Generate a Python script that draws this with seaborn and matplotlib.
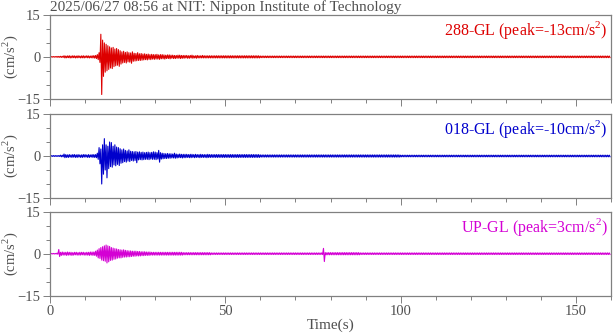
import numpy as np
import pandas as pd
import matplotlib
matplotlib.use("Agg")
import matplotlib.pyplot as plt
import seaborn as sns

# ---------------- data (peak values, one pair every 0.5 s) ----------------
t_up = np.arange(0, 160, 0.5)          # time of each positive peak (s)
# segments: A 0-12.5 s (26), B 13-29.5 s (34), C 30-45.5 s (32), D 46-159.5 s (228)

# 288-GL (red)
ns_up_a = [0.1, 0.1, 0.1, 0.1, 0.15, 0.15, 0.2, 0.2, 0.4, 0.3, 0.35, 0.4, 0.3, 0.4, 0.35, 0.3,
           0.4, 0.3, 0.35, 0.4, 0.3, 0.4, 0.35, 0.3, 0.4, 0.45]
ns_lo_a = [-0.1, -0.1, -0.1, -0.1, -0.15, -0.15, -0.2, -0.2, -0.4, -0.35, -0.3, -0.4, -0.35, -0.3,
           -0.4, -0.35, -0.3, -0.4, -0.35, -0.4, -0.3, -0.35, -0.4, -0.35, -0.4, -0.45]
ns_up_b = [0.5, 0.8, 1.5, 8.1, 6.0, 5.0, 4.5, 4.0, 3.6, 3.2, 3.4, 2.8, 3.0, 2.6, 2.2, 1.8, 2.0,
           1.6, 1.8, 1.5, 1.4, 1.8, 1.3, 1.2, 1.5, 1.1, 1.2, 1.0, 1.1, 0.9, 1.0, 0.8, 0.9, 0.8]
ns_lo_b = [-0.6, -1.0, -2.0, -13.5, -7.0, -5.5, -5.0, -4.5, -4.0, -4.2, -3.5, -3.2, -3.0, -3.4,
           -2.6, -2.2, -2.0, -2.2, -1.8, -1.9, -2.3, -1.6, -1.5, -1.4, -1.3, -1.3, -1.2, -1.1,
           -1.0, -1.1, -0.9, -1.0, -0.8, -0.9]
ns_up_c = [0.8, 0.9, 0.7, 0.8, 0.8, 0.7, 0.6, 0.7, 0.7, 0.6, 0.6, 0.5, 0.5, 0.6, 0.6, 0.5,
           0.5, 0.5, 0.5, 0.4, 0.5, 0.6, 0.4, 0.4, 0.5, 0.4, 0.4, 0.5, 0.4, 0.4, 0.4, 0.4]
ns_lo_c = [-0.8, -0.8, -0.9, -0.7, -0.7, -0.8, -0.6, -0.6, -0.7, -0.5, -0.6, -0.6, -0.5, -0.5,
           -0.6, -0.5, -0.5, -0.4, -0.5, -0.5, -0.4, -0.5, -0.4, -0.5, -0.4, -0.4, -0.4, -0.4,
           -0.4, -0.4, -0.4, -0.4]
ns_up_d = [0.4] * 28 + [0.3] * 200
ns_lo_d = [-0.4] * 28 + [-0.3] * 200

# 018-GL (blue)
ew_up_a = [0.15] * 6 + [0.3, 0.3, 0.7, 0.5] + [0.4, 0.5, 0.4, 0.5, 0.5, 0.4, 0.5, 0.4, 0.4, 0.5,
                                               0.5, 0.4, 0.5, 0.4, 0.5, 0.5]
ew_lo_a = [-0.15] * 6 + [-0.3, -0.3, -0.6, -0.5] + [-0.5, -0.4, -0.5, -0.4, -0.5, -0.5, -0.4,
                                                   -0.5, -0.5, -0.4, -0.4, -0.5, -0.5, -0.4,
                                                   -0.5, -0.5]
ew_up_b = [0.5, 1.0, 3.0, 2.5, 4.0, 6.2, 4.0, 3.5, 5.0, 4.8, 3.5, 4.0, 3.2, 3.0, 2.6, 2.2, 2.5,
           2.0, 1.8, 2.2, 1.7, 1.6, 1.5, 1.6, 1.4, 1.5, 1.3, 1.4, 1.2, 1.3, 1.4, 1.2, 1.3, 1.5]
ew_lo_b = [-0.6, -1.2, -2.8, -10.0, -6.5, -5.0, -7.8, -4.5, -3.8, -4.0, -3.2, -3.5, -3.0, -3.4,
           -2.6, -2.4, -2.0, -2.2, -1.8, -2.0, -1.6, -1.8, -1.6, -2.4, -1.4, -1.3, -1.4, -1.3,
           -1.2, -1.2, -1.3, -1.1, -1.2, -1.2]
ew_up_c = [1.4, 1.2, 2.0, 1.2, 1.0, 0.9, 0.8, 0.9, 0.8, 0.8, 0.7, 1.0, 0.7, 0.6, 0.7, 0.6,
           0.6, 0.6, 0.6, 0.5, 0.6, 0.6, 0.5, 0.6, 0.5, 0.5, 0.6, 0.5, 0.5, 0.5, 0.6, 0.5]
ew_lo_c = [-1.3, -1.1, -2.2, -1.1, -1.0, -0.9, -0.9, -0.8, -0.8, -0.7, -0.7, -0.8, -0.7, -0.6,
           -0.6, -0.7, -0.6, -0.6, -0.5, -0.6, -0.6, -0.5, -0.6, -0.5, -0.5, -0.6, -0.5, -0.5,
           -0.5, -0.6, -0.5, -0.5]
ew_up_d = [0.5] * 28 + [0.4] * 80 + [0.3] * 120
ew_lo_d = [-0.5] * 28 + [-0.4] * 80 + [-0.3] * 120

# UP-GL (magenta)
ud_up_a = [0.1, 0.1, 0.1, 0.1, 0.2, 1.5] + [0.5, 0.6, 0.5, 0.5, 0.6, 0.5, 0.5, 0.4, 0.5, 0.5,
                                            0.4, 0.5, 0.5, 0.5, 0.4, 0.5, 0.5, 0.6, 0.6, 0.6]
ud_lo_a = [-0.1, -0.1, -0.1, -0.1, -0.2, -1.0] + [-0.6, -0.5, -0.5, -0.6, -0.5, -0.5, -0.6,
                                                  -0.5, -0.4, -0.5, -0.5, -0.5, -0.4, -0.5,
                                                  -0.5, -0.5, -0.6, -0.5, -0.6, -0.6]
ud_up_b = [0.9, 1.3, 1.8, 2.2, 2.5, 2.8, 3.1, 2.8, 2.6, 2.2, 2.0, 1.8, 1.7, 1.5, 1.4, 1.3, 1.4,
           1.2, 1.1, 1.0, 1.0, 0.9, 0.9, 0.9, 0.8, 0.8, 0.7, 0.7, 0.7, 0.6, 0.6, 0.6, 0.5, 0.5]
ud_lo_b = [-0.9, -1.5, -1.7, -2.3, -2.5, -2.7, -3.3, -2.9, -2.4, -2.3, -2.0, -1.9, -1.6, -1.5,
           -1.5, -1.3, -1.2, -1.2, -1.1, -1.1, -1.0, -0.9, -0.9, -0.8, -0.8, -0.8, -0.7, -0.7,
           -0.6, -0.6, -0.6, -0.5, -0.5, -0.5]
ud_up_c = [0.5] * 16 + [0.4] * 16
ud_lo_c = [-0.5] * 16 + [-0.4] * 16
ud_up_d = [0.3] * 64 + [1.9] + [0.4] * 20 + [0.3] * 143
ud_lo_d = [-0.3] * 64 + [-2.8] + [-0.4] * 20 + [-0.3] * 143

channels = ["288-GL (peak=-13cm/s$^\\mathregular{2}$)",
            "018-GL (peak=-10cm/s$^\\mathregular{2}$)",
            "UP-GL (peak=3cm/s$^\\mathregular{2}$)"]
colors = ["#dd0000", "#0000cc", "#d400d4"]
title = "2025/06/27 08:56 at NIT: Nippon Institute of Technology"
y_label = "(cm/s$^\\mathregular{2}$)"
x_label = "Time(s)"

# ---------------- build waveforms ----------------
t_lo = t_up + 0.25   # negative peak follows each positive peak


def waveform(up, lo):
    assert len(up) == len(t_up) and len(lo) == len(t_up)
    tt = np.empty(2 * len(t_up))
    vv = np.empty(2 * len(t_up))
    tt[0::2] = t_up
    tt[1::2] = t_lo
    vv[0::2] = up
    vv[1::2] = lo
    return pd.DataFrame({"time": tt, "acc": vv})


waves = [
    waveform(ns_up_a + ns_up_b + ns_up_c + ns_up_d, ns_lo_a + ns_lo_b + ns_lo_c + ns_lo_d),
    waveform(ew_up_a + ew_up_b + ew_up_c + ew_up_d, ew_lo_a + ew_lo_b + ew_lo_c + ew_lo_d),
    waveform(ud_up_a + ud_up_b + ud_up_c + ud_up_d, ud_lo_a + ud_lo_b + ud_lo_c + ud_lo_d),
]

# ---------------- plot ----------------
sns.set_theme(style="white")
plt.rcParams["font.family"] = ["Liberation Serif", "DejaVu Serif"]
plt.rcParams["mathtext.fontset"] = "custom"
plt.rcParams["mathtext.rm"] = "Liberation Serif"

W, H = 613, 334
fig = plt.figure(figsize=(W / 100, H / 100), dpi=100)
gray = "#808080"
tgray = "#505050"
panels = [(15, 98.7), (114, 198), (211.7, 295.7)]
left, right = 50 / W, 611 / W

for i, (top, bot) in enumerate(panels):
    ax = fig.add_axes([left, 1 - bot / H, right - left, (bot - top) / H])
    sns.lineplot(data=waves[i], x="time", y="acc", ax=ax, color=colors[i],
                 linewidth=0.8, estimator=None, sort=False)
    ax.set_xlim(0, 160)
    ax.set_ylim(-15, 15)
    ax.set_yticks([-15, 0, 15])
    ax.set_yticks([-10, -5, 5, 10], minor=True)
    ax.set_xticks([0, 50, 100, 150])
    ax.set_xticks([10, 20, 30, 40, 60, 70, 80, 90, 110, 120, 130, 140, 160], minor=True)
    ax.tick_params(axis="both", which="major", direction="out", length=5, width=0.7,
                   color=gray, labelcolor=tgray, labelsize=10.5, left=True, bottom=True)
    ax.tick_params(axis="both", which="minor", direction="out", length=3, width=0.7,
                   color=gray, left=True, bottom=True)
    ax.tick_params(axis="y", pad=2)
    ax.tick_params(axis="x", pad=2)
    for s in ax.spines.values():
        s.set_color(gray)
        s.set_linewidth(0.9)
    ax.set_ylabel(y_label, color=tgray, fontsize=10.5)
    ax.yaxis.set_label_coords(-0.053, 0.5)
    if i < 2:
        ax.set_xticklabels([])
        ax.set_xlabel("")
    else:
        ax.set_xlabel(x_label, color=tgray, fontsize=11, labelpad=0)
    ax.text(0.994, 0.95, channels[i], transform=ax.transAxes, ha="right", va="top",
            color=colors[i], fontsize=11.5)

fig.text(left, 1 - 0.5 / H, title, ha="left", va="top", color=tgray, fontsize=11)
fig.savefig("out.png", dpi=100, facecolor="white")
